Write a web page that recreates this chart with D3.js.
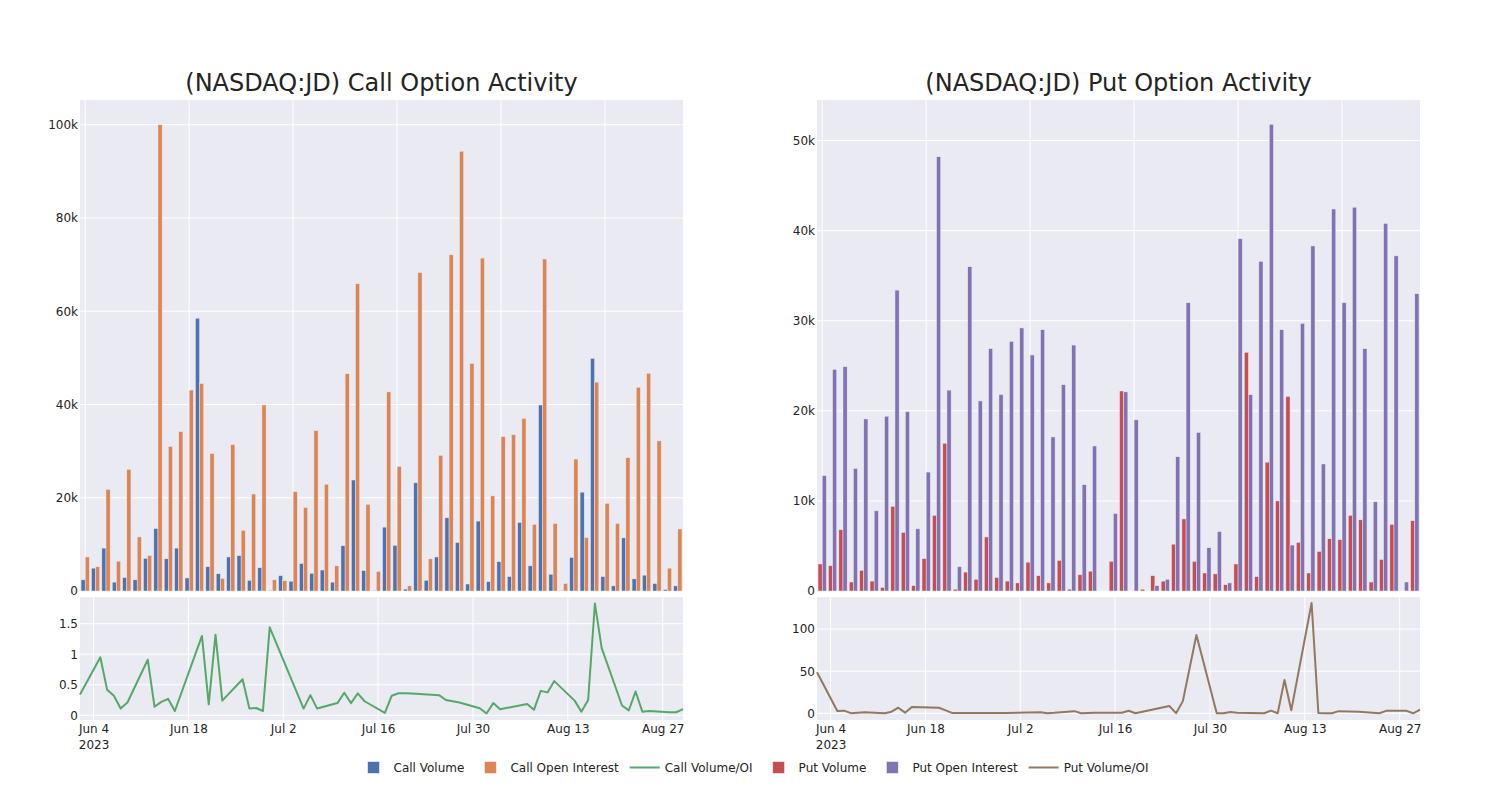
<!DOCTYPE html>
<html><head><meta charset="utf-8">
<script src="https://cdn.jsdelivr.net/npm/d3@7"></script>
<style>
body{margin:0;background:#fff;}
svg{display:block;}
text{font-family:"DejaVu Sans",Verdana,sans-serif;}
</style>
</head><body>
<svg id="chart" width="1500" height="800"></svg>
<script>
// ---------- data ----------
const dates = ["2023-06-02","2023-06-05","2023-06-06","2023-06-07","2023-06-08","2023-06-09",
"2023-06-12","2023-06-13","2023-06-14","2023-06-15","2023-06-16",
"2023-06-20","2023-06-21","2023-06-22","2023-06-23",
"2023-06-26","2023-06-27","2023-06-28","2023-06-29","2023-06-30",
"2023-07-05","2023-07-06","2023-07-07",
"2023-07-10","2023-07-11","2023-07-12","2023-07-13","2023-07-14",
"2023-07-17","2023-07-18","2023-07-19","2023-07-20","2023-07-21",
"2023-07-25","2023-07-26","2023-07-28",
"2023-07-31","2023-08-01","2023-08-02","2023-08-03",
"2023-08-07","2023-08-08","2023-08-09","2023-08-10","2023-08-11",
"2023-08-14","2023-08-15","2023-08-16","2023-08-17","2023-08-18",
"2023-08-21","2023-08-22","2023-08-23","2023-08-24","2023-08-25",
"2023-08-28","2023-08-29","2023-08-30"];

const callVolume = [2400,4900,9200,1900,2900,2400,7000,13400,6900,9200,
2800,58500,5200,3700,7300,7600,2300,5000,150,3300,
2100,5900,3800,4500,1900,9700,23800,4400,150,13700,
9800,400,23200,2300,7300,15700,10400,1500,15000,2000,
6300,3100,14700,5400,39900,3600,50,7200,21200,49900,
3100,1100,11400,2600,3400,1600,300,1100];

const callOpenInterest = [7300,5200,21800,6400,26100,11600,7600,100000,31000,34200,
43100,44500,29500,2700,31400,13000,20800,39900,2400,2200,
21300,17900,34400,22900,5400,46600,65900,18600,4200,42700,
26700,1100,68300,6900,29100,72100,94300,48800,71400,20400,
33100,33500,37000,14300,71200,14500,1600,28300,11500,44800,
18800,14500,28600,43700,46700,32200,4900,13300];

const callVolumeOI = [0.34,0.95,0.42,0.32,0.11,0.21,0.91,0.14,0.22,0.27,
0.07,1.30,0.18,1.32,0.24,0.59,0.11,0.12,0.07,1.44,
0.11,0.33,0.11,0.20,0.37,0.20,0.36,0.23,0.04,0.32,
0.36,0.36,0.355,0.33,0.25,0.21,0.115,0.03,0.20,0.10,
0.185,0.09,0.40,0.375,0.56,0.24,0.06,0.25,1.83,1.10,
0.16,0.08,0.39,0.06,0.07,0.05,0.05,0.10];

const putVolume = [3000,2800,6800,1000,2300,1100,400,9400,6500,600,
3600,8400,16400,200,2100,1300,6000,1500,1100,900,
3200,1700,900,3400,200,1800,2200,0,3300,22200,
0,200,1700,1100,5200,8000,3300,2000,1900,700,
3000,26500,1600,14300,10000,21600,5400,2000,4400,5800,
5700,8400,7900,1000,3500,7400,0,7800];

const putOpenInterest = [12800,24600,24900,13600,19100,8900,19400,33400,19900,6900,
13200,48200,22300,2700,36000,21100,26900,21800,27700,29200,
26200,29000,17100,22900,27300,11800,16100,0,8600,22100,
19000,0,600,1300,14900,32000,17600,4800,6600,900,
39100,21800,36600,51800,29000,5100,29700,38300,14100,42400,
32000,42600,26900,9900,40800,37200,1000,33000];

const putRatioDates = ["2023-06-02","2023-06-05","2023-06-06","2023-06-07","2023-06-08","2023-06-09",
"2023-06-12","2023-06-13","2023-06-14","2023-06-15","2023-06-16",
"2023-06-20","2023-06-21","2023-06-22","2023-06-23",
"2023-06-26","2023-06-27","2023-06-28","2023-06-29","2023-06-30",
"2023-07-05","2023-07-06","2023-07-07",
"2023-07-10","2023-07-11","2023-07-12","2023-07-13","2023-07-14",
"2023-07-17","2023-07-18","2023-07-19","2023-07-24","2023-07-25","2023-07-26","2023-07-28",
"2023-07-31","2023-08-01","2023-08-02","2023-08-03",
"2023-08-07","2023-08-08","2023-08-09","2023-08-10","2023-08-11",
"2023-08-14","2023-08-15","2023-08-16","2023-08-17","2023-08-18",
"2023-08-21","2023-08-22","2023-08-23","2023-08-24","2023-08-25",
"2023-08-28","2023-08-29","2023-08-30"];

const putVolumeOI = [48.8,2.8,3.2,0.2,0.8,1.2,0.2,2.0,6.7,0.8,7.5,
6.7,3.5,0.3,0.4,0.4,0.3,0.3,0.3,0.4,
1.2,0.2,0.6,2.6,0.2,0.4,0.6,0.8,
0.8,3.1,0.1,8.7,0.2,14.5,93,
0,0.1,1.6,0.8,
0.1,3.2,0.1,39.7,3.6,
131,0.4,0.1,0.1,2.6,
1.9,1.3,0.7,0.1,3.0,
3.0,0.1,4.3];

const callTicks = [0,20000,40000,60000,80000,100000];
const putTicks = [0,10000,20000,30000,40000,50000];
const callRatioTicks = [0,0.5,1,1.5];
const putRatioTicks = [0,50,100];
const dateTicks = ["2023-06-04","2023-06-18","2023-07-02","2023-07-16","2023-07-30","2023-08-13","2023-08-27"];
const dateRange = ["2023-06-02","2023-08-30"];

const colors = {callVol:"#4C72B0", callOI:"#DD8452", callRatio:"#55A868",
                putVol:"#C44E52", putOI:"#8172B3", putRatio:"#937860"};

// ---------- drawing ----------
const svg = d3.select("#chart");
const parse = d3.utcParse("%Y-%m-%d");
const TEXT = "rgb(36,36,36)";
const BG = "rgb(234,234,242)";

const topY0 = 100, topY1 = 591, botY0 = 597.2, botY1 = 720;

function panel(cfg){
  const {x0, x1, title, vol, oi, volColor, oiColor, topMax, topTicks,
         rDates, rVals, rColor, rDomain, rTicks} = cfg;
  const g = svg.append("g");

  // title
  g.append("text").attr("x",(x0+x1)/2).attr("y",91).attr("text-anchor","middle")
    .attr("font-size",24).attr("fill",TEXT).text(title);

  // ---- top bar chart ----
  const xb = d3.scaleBand().domain(dates).range([x0,x1]).paddingInner(0.2).paddingOuter(0.1);
  const step = xb.step();
  const xs = d3.scaleBand().domain(["v","o"]).range([0, xb.bandwidth()]);
  const yt = d3.scaleLinear().domain([0, topMax]).range([topY1, topY0]);

  g.append("rect").attr("x",x0).attr("y",topY0).attr("width",x1-x0).attr("height",topY1-topY0).attr("fill",BG);
  // grid
  g.append("g").selectAll("line").data(topTicks).join("line")
    .attr("x1",x0).attr("x2",x1).attr("y1",d=>yt(d)).attr("y2",d=>yt(d))
    .attr("stroke","#fff").attr("stroke-width",1);
  g.append("g").selectAll("line").data(dates.filter((d,i)=>i%10===0)).join("line")
    .attr("x1",d=>xb(d)+xb.bandwidth()/2).attr("x2",d=>xb(d)+xb.bandwidth()/2)
    .attr("y1",topY0).attr("y2",topY1).attr("stroke","#fff").attr("stroke-width",1);

  const bars = g.append("g");
  bars.selectAll("rect.v").data(vol).join("rect").attr("class","v")
    .attr("x",(d,i)=>xb(dates[i])+xs("v")).attr("width",xs.bandwidth())
    .attr("y",d=>yt(d)).attr("height",d=>topY1-yt(d))
    .attr("fill",volColor).attr("stroke",BG).attr("stroke-width",0.5);
  bars.selectAll("rect.o").data(oi).join("rect").attr("class","o")
    .attr("x",(d,i)=>xb(dates[i])+xs("o")).attr("width",xs.bandwidth())
    .attr("y",d=>yt(d)).attr("height",d=>topY1-yt(d))
    .attr("fill",oiColor).attr("stroke",BG).attr("stroke-width",0.5);

  const ayt = g.append("g").attr("transform",`translate(${x0},0)`)
    .call(d3.axisLeft(yt).tickValues(topTicks).tickSize(0).tickPadding(2).tickFormat(d3.format("~s")));
  styleAxis(ayt);

  // ---- bottom line chart ----
  const xt = d3.scaleUtc().domain(dateRange.map(parse)).range([x0,x1]);
  const yb = d3.scaleLinear().domain(rDomain).range([botY1, botY0]);
  g.append("rect").attr("x",x0).attr("y",botY0).attr("width",x1-x0).attr("height",botY1-botY0).attr("fill",BG);
  g.append("g").selectAll("line").data(rTicks).join("line")
    .attr("x1",x0).attr("x2",x1).attr("y1",d=>yb(d)).attr("y2",d=>yb(d))
    .attr("stroke","#fff").attr("stroke-width",1);
  g.append("g").selectAll("line").data(dateTicks.map(parse)).join("line")
    .attr("x1",d=>xt(d)).attr("x2",d=>xt(d)).attr("y1",botY0).attr("y2",botY1)
    .attr("stroke","#fff").attr("stroke-width",1);

  const line = d3.line().x((d,i)=>xt(parse(rDates[i]))).y(d=>yb(d));
  g.append("path").datum(rVals).attr("d",line).attr("fill","none")
    .attr("stroke",rColor).attr("stroke-width",2).attr("stroke-linejoin","round");

  const ayb = g.append("g").attr("transform",`translate(${x0},0)`)
    .call(d3.axisLeft(yb).tickValues(rTicks).tickSize(0).tickPadding(2).tickFormat(d3.format("~g")));
  styleAxis(ayb);

  const fmt = d3.utcFormat("%b %-d");
  const axb = g.append("g").attr("transform",`translate(0,${botY1})`)
    .call(d3.axisBottom(xt).tickValues(dateTicks.map(parse)).tickSize(0).tickPadding(4.5).tickFormat(fmt));
  styleAxis(axb);
  axb.selectAll(".tick text").each(function(d,i){
    if(i===0){
      d3.select(this).append("tspan").attr("x",0).attr("dy","1.33em").text(d3.utcFormat("%Y")(d));
    }
  });
}

function styleAxis(a){
  a.attr("font-size",12).attr("font-family",'"DejaVu Sans",Verdana,sans-serif').attr("color",TEXT);
  a.select(".domain").remove();
  a.selectAll(".tick line").remove();
}

panel({x0:80, x1:683, title:"(NASDAQ:JD) Call Option Activity",
  vol:callVolume, oi:callOpenInterest, volColor:colors.callVol, oiColor:colors.callOI,
  topMax:105300, topTicks:callTicks,
  rDates:dates, rVals:callVolumeOI, rColor:colors.callRatio, rDomain:[-0.077,1.934], rTicks:callRatioTicks});

panel({x0:817, x1:1420, title:"(NASDAQ:JD) Put Option Activity",
  vol:putVolume, oi:putOpenInterest, volColor:colors.putVol, oiColor:colors.putOI,
  topMax:54500, topTicks:putTicks,
  rDates:putRatioDates, rVals:putVolumeOI, rColor:colors.putRatio, rDomain:[-7.9,137.9], rTicks:putRatioTicks});

// ---------- legend ----------
const legendItems = [
  {label:"Call Volume", type:"bar", color:colors.callVol},
  {label:"Call Open Interest", type:"bar", color:colors.callOI},
  {label:"Call Volume/OI", type:"line", color:colors.callRatio},
  {label:"Put Volume", type:"bar", color:colors.putVol},
  {label:"Put Open Interest", type:"bar", color:colors.putOI},
  {label:"Put Volume/OI", type:"line", color:colors.putRatio}
];
const lg = svg.append("g");
const items = lg.selectAll("g").data(legendItems).join("g");
items.append("text").attr("x",40).attr("y",771.8).attr("font-size",12).attr("fill",TEXT).text(d=>d.label);
const widths = [];
items.each(function(){ widths.push(40 + d3.select(this).select("text").node().getComputedTextLength()); });
const gap = 6;
const total = d3.sum(widths) + gap*(widths.length-1);
let cx = 751 - total/2;
items.each(function(d,i){
  d3.select(this).attr("transform",`translate(${cx},0)`);
  cx += widths[i] + gap;
});
items.filter(d=>d.type==="bar").append("rect")
  .attr("x",14.2).attr("y",761.7).attr("width",11.6).attr("height",11.6)
  .attr("fill",d=>d.color).attr("stroke",BG).attr("stroke-width",0.5);
items.filter(d=>d.type==="line").append("line")
  .attr("x1",5).attr("x2",35).attr("y1",767.5).attr("y2",767.5)
  .attr("stroke",d=>d.color).attr("stroke-width",2);
</script>
</body></html>
